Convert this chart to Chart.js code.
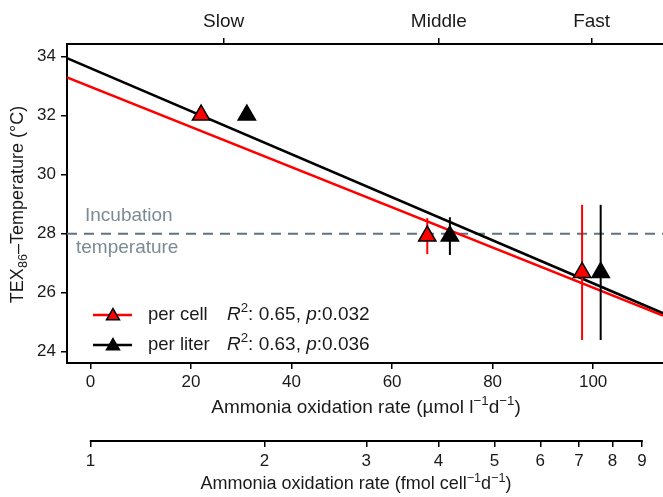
<!DOCTYPE html>
<html><head><meta charset="utf-8">
<script src="https://cdn.jsdelivr.net/npm/chart.js@4/dist/chart.umd.min.js"></script>
<style>html,body{margin:0;padding:0;background:#fff}#wrap{width:663px;height:497px}</style>
</head><body><div id="wrap"><canvas id="c" width="663" height="497"></canvas></div>
<script>
// ---- data ----
const seriesNames = ['per cell', 'per liter'];
const perCellX = [22.0, 67.0, 97.8];
const perCellY = [32.02, 27.92, 26.69];
const perCellErr = [0, 0.61, 2.29];
const perLiterX = [31.1, 71.5, 101.5];
const perLiterY = [32.02, 27.92, 26.69];
const perLiterErr = [0, 0.64, 2.29];
const fitIntercept = [32.98, 33.61];   // per cell, per liter
const fitSlope = [-0.0681, -0.0729];
const fitR2 = ['0.65', '0.63'];
const fitP = ['0.032', '0.036'];
const topTickValues = [26.5, 69.3, 99.7];
const topTickLabels = ['Slow', 'Middle', 'Fast'];
const xTicks = [0, 20, 40, 60, 80, 100];
const yTicks = [24, 26, 28, 30, 32, 34];
const logTicks = [1, 2, 3, 4, 5, 6, 7, 8, 9];
const incubationTemp = 28;
const xMin = -4.68, xMax = 113.9, yMin = 23.62, yMax = 34.43;
const unitsPerDecade = 115.0;   // linear axis units per decade of the fmol axis
const logMin = Math.pow(10, xMin / unitsPerDecade), logMax = Math.pow(10, xMax / unitsPerDecade);

const FONT = "'Liberation Sans', Arial, Helvetica, sans-serif";
const TEXT = '#1a1a1a';
Chart.defaults.font.family = FONT;
Chart.defaults.color = TEXT;

function richItems(ctx, parts, size) {
  let total = 0;
  const items = parts.map(p => {
    const mode = p[1];
    const s = (mode === 1 || mode === -1) ? size * 0.7 : size;
    const f = (mode === 'i' ? 'italic ' : '') + s + 'px ' + FONT;
    ctx.font = f;
    const w = ctx.measureText(p[0]).width;
    total += w;
    return { t: p[0], f, w, dy: mode === 1 ? -size * 0.33 : (mode === -1 ? size * 0.28 : 0) };
  });
  return { items, total };
}
function drawRich(ctx, parts, x, y, size, opts) {
  opts = opts || {};
  ctx.save();
  ctx.translate(x, y);
  if (opts.rotate) ctx.rotate(-Math.PI / 2);
  ctx.fillStyle = opts.color || TEXT;
  const r = richItems(ctx, parts, size);
  let cx = opts.align === 'left' ? 0 : -r.total / 2;
  ctx.textBaseline = 'middle';
  ctx.textAlign = 'left';
  for (const it of r.items) { ctx.font = it.f; ctx.fillText(it.t, cx, it.dy); cx += it.w; }
  ctx.restore();
}
function triangle(ctx, x, y, r, fill) {
  ctx.save();
  ctx.beginPath();
  for (let k = 0; k < 3; k++) {
    const a = k * 2 * Math.PI / 3;
    const px = x + Math.sin(a) * r, py = y - Math.cos(a) * r;
    if (k === 0) ctx.moveTo(px, py); else ctx.lineTo(px, py);
  }
  ctx.closePath();
  ctx.fillStyle = fill; ctx.fill();
  ctx.lineWidth = 1.5; ctx.strokeStyle = '#000'; ctx.stroke();
  ctx.restore();
}

const extras = {
  id: 'extras',
  beforeDatasetsDraw(chart) {
    const { ctx, chartArea: a, scales } = chart;
    const yp = scales.y.getPixelForValue(incubationTemp);
    ctx.save();
    ctx.strokeStyle = '#627380'; ctx.lineWidth = 2; ctx.setLineDash([10, 7]);
    ctx.beginPath(); ctx.moveTo(a.left, yp); ctx.lineTo(a.right, yp); ctx.stroke();
    ctx.restore();
    ctx.save();
    ctx.fillStyle = '#7b8b96'; ctx.font = '19px ' + FONT; ctx.textBaseline = 'middle'; ctx.textAlign = 'left';
    ctx.fillText('Incubation', 85, yp - 18);
    ctx.fillText('temperature', 76, yp + 14);
    ctx.restore();
  },
  beforeDatasetDraw(chart, args) {
    if (args.index !== 1) return;
    const { ctx, scales } = chart;
    const sets = [[perCellX, perCellY, perCellErr, '#ff0000'], [perLiterX, perLiterY, perLiterErr, '#000000']];
    ctx.save();
    ctx.lineWidth = 2;
    for (const [xs, ys, es, col] of sets) {
      ctx.strokeStyle = col;
      xs.forEach((xv, i) => {
        if (!es[i]) return;
        const px = scales.x.getPixelForValue(xv);
        ctx.beginPath();
        ctx.moveTo(px, scales.y.getPixelForValue(ys[i] + es[i]));
        ctx.lineTo(px, scales.y.getPixelForValue(ys[i] - es[i]));
        ctx.stroke();
      });
    }
    ctx.restore();
  },
  afterDraw(chart) {
    const { ctx, chartArea: a, scales } = chart;
    const lg = scales.xLog;
    ctx.save();
    ctx.strokeStyle = '#000'; ctx.lineWidth = 2;
    ctx.beginPath();
    ctx.moveTo(lg.getPixelForValue(logTicks[0]) - 0.75, lg.top);
    ctx.lineTo(lg.getPixelForValue(logTicks[logTicks.length - 1]) + 0.75, lg.top);
    ctx.stroke();
    ctx.restore();
    drawRich(ctx, [['TEX', 0], ['86', -1], ['\u2013Temperature (\u00B0C)', 0]], 18, (a.top + a.bottom) / 2 + 1, 18, { rotate: true });
    drawRich(ctx, [['Ammonia oxidation rate (\u00B5mol l', 0], ['\u22121', 1], ['d', 0], ['\u22121', 1], [')', 0]], 366, 408, 19);
    drawRich(ctx, [['Ammonia oxidation rate (fmol cell', 0], ['\u22121', 1], ['d', 0], ['\u22121', 1], [')', 0]], 356, 484, 18);
    const rows = [[315, '#ff0000', 0], [345, '#000000', 1]];
    for (const [ly, col, i] of rows) {
      ctx.save();
      ctx.strokeStyle = col; ctx.lineWidth = 2.5;
      ctx.beginPath(); ctx.moveTo(93, ly); ctx.lineTo(132, ly); ctx.stroke();
      ctx.restore();
      triangle(ctx, 113, ly + 1, 7.5, col);
      drawRich(ctx, [[seriesNames[i], 0]], 148, ly, 18.5, { align: 'left' });
      drawRich(ctx, [['R', 'i'], ['2', 1], [': ' + fitR2[i] + ', ', 0], ['p', 'i'], [':' + fitP[i], 0]], 227, ly, 19, { align: 'left' });
    }
  }
};

const gridTicks = { drawOnChartArea: false, drawTicks: true, tickLength: 6, color: '#000', lineWidth: 1.5 };
const tickFont = { size: 17 };
const noPad = s => { s.paddingLeft = 0; s.paddingRight = 0; };

new Chart(document.getElementById('c'), {
  type: 'scatter',
  data: {
    datasets: [
      { label: seriesNames[0], data: perCellX.map((x, i) => ({ x, y: perCellY[i] })),
        pointStyle: 'triangle', pointRadius: 10, backgroundColor: '#ff0000', borderColor: '#000', borderWidth: 1.5 },
      { label: seriesNames[1], data: perLiterX.map((x, i) => ({ x, y: perLiterY[i] })),
        pointStyle: 'triangle', pointRadius: 10, backgroundColor: '#000', borderColor: '#000', borderWidth: 1.5 },
      { label: 'fit ' + seriesNames[0], type: 'line', showLine: true,
        data: [xMin, xMax].map(x => ({ x, y: fitIntercept[0] + fitSlope[0] * x })),
        borderColor: '#ff0000', borderWidth: 2.5, pointRadius: 0 },
      { label: 'fit ' + seriesNames[1], type: 'line', showLine: true,
        data: [xMin, xMax].map(x => ({ x, y: fitIntercept[1] + fitSlope[1] * x })),
        borderColor: '#000', borderWidth: 2.5, pointRadius: 0 }
    ]
  },
  options: {
    responsive: false, animation: false, devicePixelRatio: 1,
    layout: { padding: 0, autoPadding: false },
    plugins: { legend: { display: false }, tooltip: { enabled: false } },
    scales: {
      x: { type: 'linear', position: 'bottom', weight: 0, min: xMin, max: xMax,
        afterBuildTicks: s => { s.ticks = xTicks.map(v => ({ value: v })); },
        ticks: { font: tickFont, padding: 3, autoSkip: false, maxRotation: 0, color: TEXT },
        grid: gridTicks, border: { display: true, color: '#000', width: 2 },
        afterFit: s => { s.height = 78; noPad(s); } },
      xLog: { type: 'logarithmic', position: 'bottom', weight: 1, min: logMin, max: logMax,
        afterBuildTicks: s => { s.ticks = logTicks.map(v => ({ value: v })); },
        ticks: { font: tickFont, padding: 4, autoSkip: false, maxRotation: 0, color: TEXT, callback: v => String(v) },
        grid: gridTicks, border: { display: false },
        afterFit: s => { s.height = 56; noPad(s); } },
      xTop: { type: 'linear', position: 'top', min: xMin, max: xMax,
        afterBuildTicks: s => { s.ticks = topTickValues.map(v => ({ value: v })); },
        ticks: { font: { size: 19 }, padding: 5, autoSkip: false, maxRotation: 0, color: TEXT,
          callback: (v, i) => topTickLabels[i] },
        grid: gridTicks, border: { display: true, color: '#000', width: 2 },
        afterFit: s => { s.height = 44; noPad(s); } },
      y: { type: 'linear', position: 'left', min: yMin, max: yMax,
        afterBuildTicks: s => { s.ticks = yTicks.map(v => ({ value: v })); },
        ticks: { font: tickFont, padding: 5, color: TEXT },
        grid: gridTicks, border: { display: true, color: '#000', width: 2 },
        afterFit: s => { s.width = 67; s.paddingTop = 0; s.paddingBottom = 0; } }
    }
  },
  plugins: [extras]
});
</script>
</body></html>
